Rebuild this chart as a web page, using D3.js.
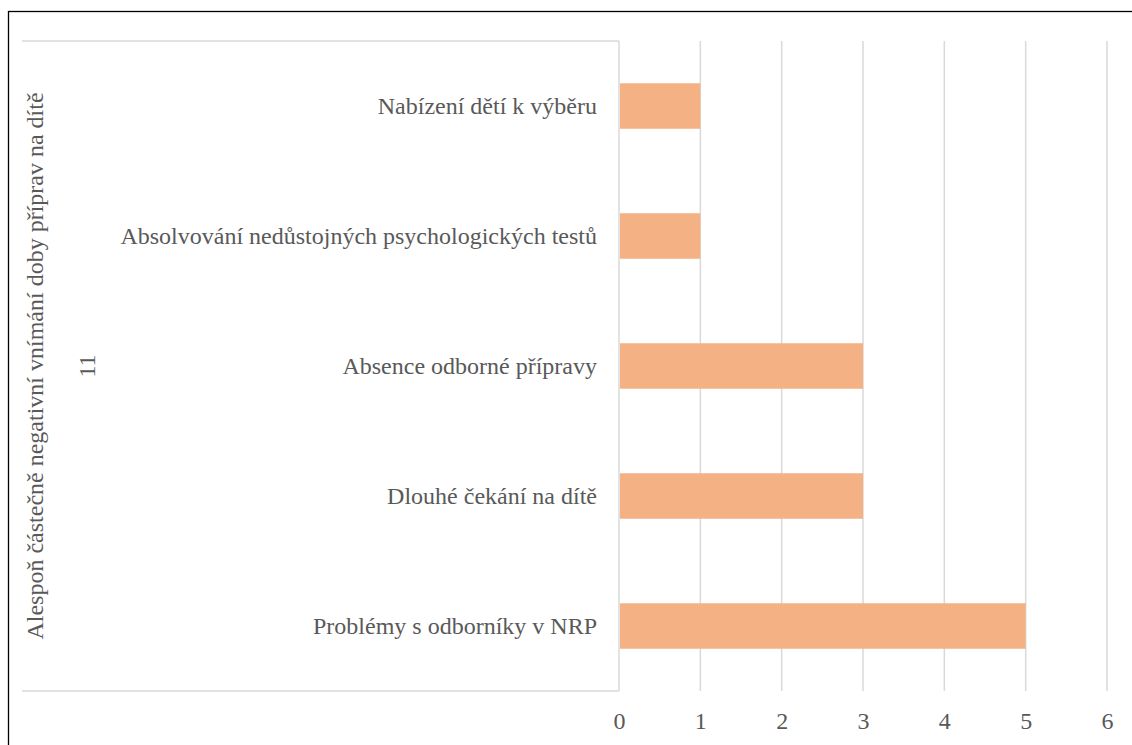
<!DOCTYPE html>
<html>
<head>
<meta charset="utf-8">
<script src="https://cdn.jsdelivr.net/npm/d3@7"></script>
<style>
  html, body { margin: 0; padding: 0; background: #fff; }
  svg { display: block; }
</style>
</head>
<body>
<div id="chart"></div>
<script>
const categories = [
  "Nabízení dětí k výběru",
  "Absolvování nedůstojných psychologických testů",
  "Absence odborné přípravy",
  "Dlouhé čekání na dítě",
  "Problémy s odborníky v NRP"
];
const values = [1, 1, 3, 3, 5];
const xTicks = [0, 1, 2, 3, 4, 5, 6];
const outerGroupLabel = "Alespoň částečně negativní vnímání doby příprav na dítě";
const innerGroupLabel = "11";

const W = 1132, H = 745;
const svg = d3.select("#chart").append("svg").attr("width", W).attr("height", H);

const font = "'Liberation Serif', 'Times New Roman', serif";
const textColor = "#595959";
const gridColor = "#d9d9d9";

// outer border
svg.append("rect")
  .attr("x", 8.5).attr("y", 11.5).attr("width", 1400).attr("height", 1000)
  .attr("fill", "none").attr("stroke", "#000").attr("stroke-width", 1.3);

const plotLeft = 619, plotRight = 1107, plotTop = 41, plotBottom = 691;
const boxLeft = 22;

const x = d3.scaleLinear().domain([0, 6]).range([plotLeft, plotRight]);
const y = d3.scaleBand().domain(categories).range([plotTop, plotBottom]).paddingInner(0.65).paddingOuter(0.325);

// gridlines
svg.append("g").selectAll("line").data(xTicks).join("line")
  .attr("x1", d => x(d)).attr("x2", d => x(d))
  .attr("y1", plotTop).attr("y2", plotBottom)
  .attr("stroke", gridColor).attr("stroke-width", 1.5);

// category box lines
const box = svg.append("g").attr("stroke", gridColor).attr("stroke-width", 1.5).attr("fill", "none");
box.append("line").attr("x1", boxLeft).attr("x2", plotLeft).attr("y1", plotTop).attr("y2", plotTop);
box.append("line").attr("x1", boxLeft).attr("x2", plotLeft).attr("y1", plotBottom).attr("y2", plotBottom);

// bars
svg.append("g").selectAll("rect").data(categories).join("rect")
  .attr("x", x(0) + 1)
  .attr("y", d => y(d))
  .attr("width", (d, i) => x(values[i]) - x(0) - 1)
  .attr("height", y.bandwidth())
  .attr("fill", "#F4B183");

// x axis labels
const xAxis = d3.axisBottom(x).tickValues(xTicks).tickSize(0).tickPadding(0).tickFormat(d3.format("d"));
const gx = svg.append("g").attr("transform", `translate(0, 729)`).call(xAxis);
gx.select(".domain").remove();
gx.selectAll("text")
  .attr("dy", 0)
  .attr("fill", textColor)
  .style("font-family", font).style("font-size", "24px");

// y axis labels (categories)
const yAxis = d3.axisLeft(y).tickSize(0).tickPadding(22);
const gy = svg.append("g").attr("transform", `translate(${plotLeft}, 0)`).call(yAxis);
gy.select(".domain").remove();
gy.selectAll("text")
  .attr("fill", textColor)
  .style("font-family", font).style("font-size", "24px");

// group labels
const midY = (plotTop + plotBottom) / 2;
svg.append("text")
  .attr("transform", `translate(${43}, ${midY}) rotate(-90)`)
  .attr("text-anchor", "middle")
  .attr("fill", textColor)
  .style("font-family", font).style("font-size", "24px")
  .text(outerGroupLabel);
svg.append("text")
  .attr("transform", `translate(${95}, ${midY}) rotate(-90)`)
  .attr("text-anchor", "middle")
  .attr("fill", textColor)
  .style("font-family", font).style("font-size", "24px")
  .text(innerGroupLabel);
</script>
</body>
</html>
